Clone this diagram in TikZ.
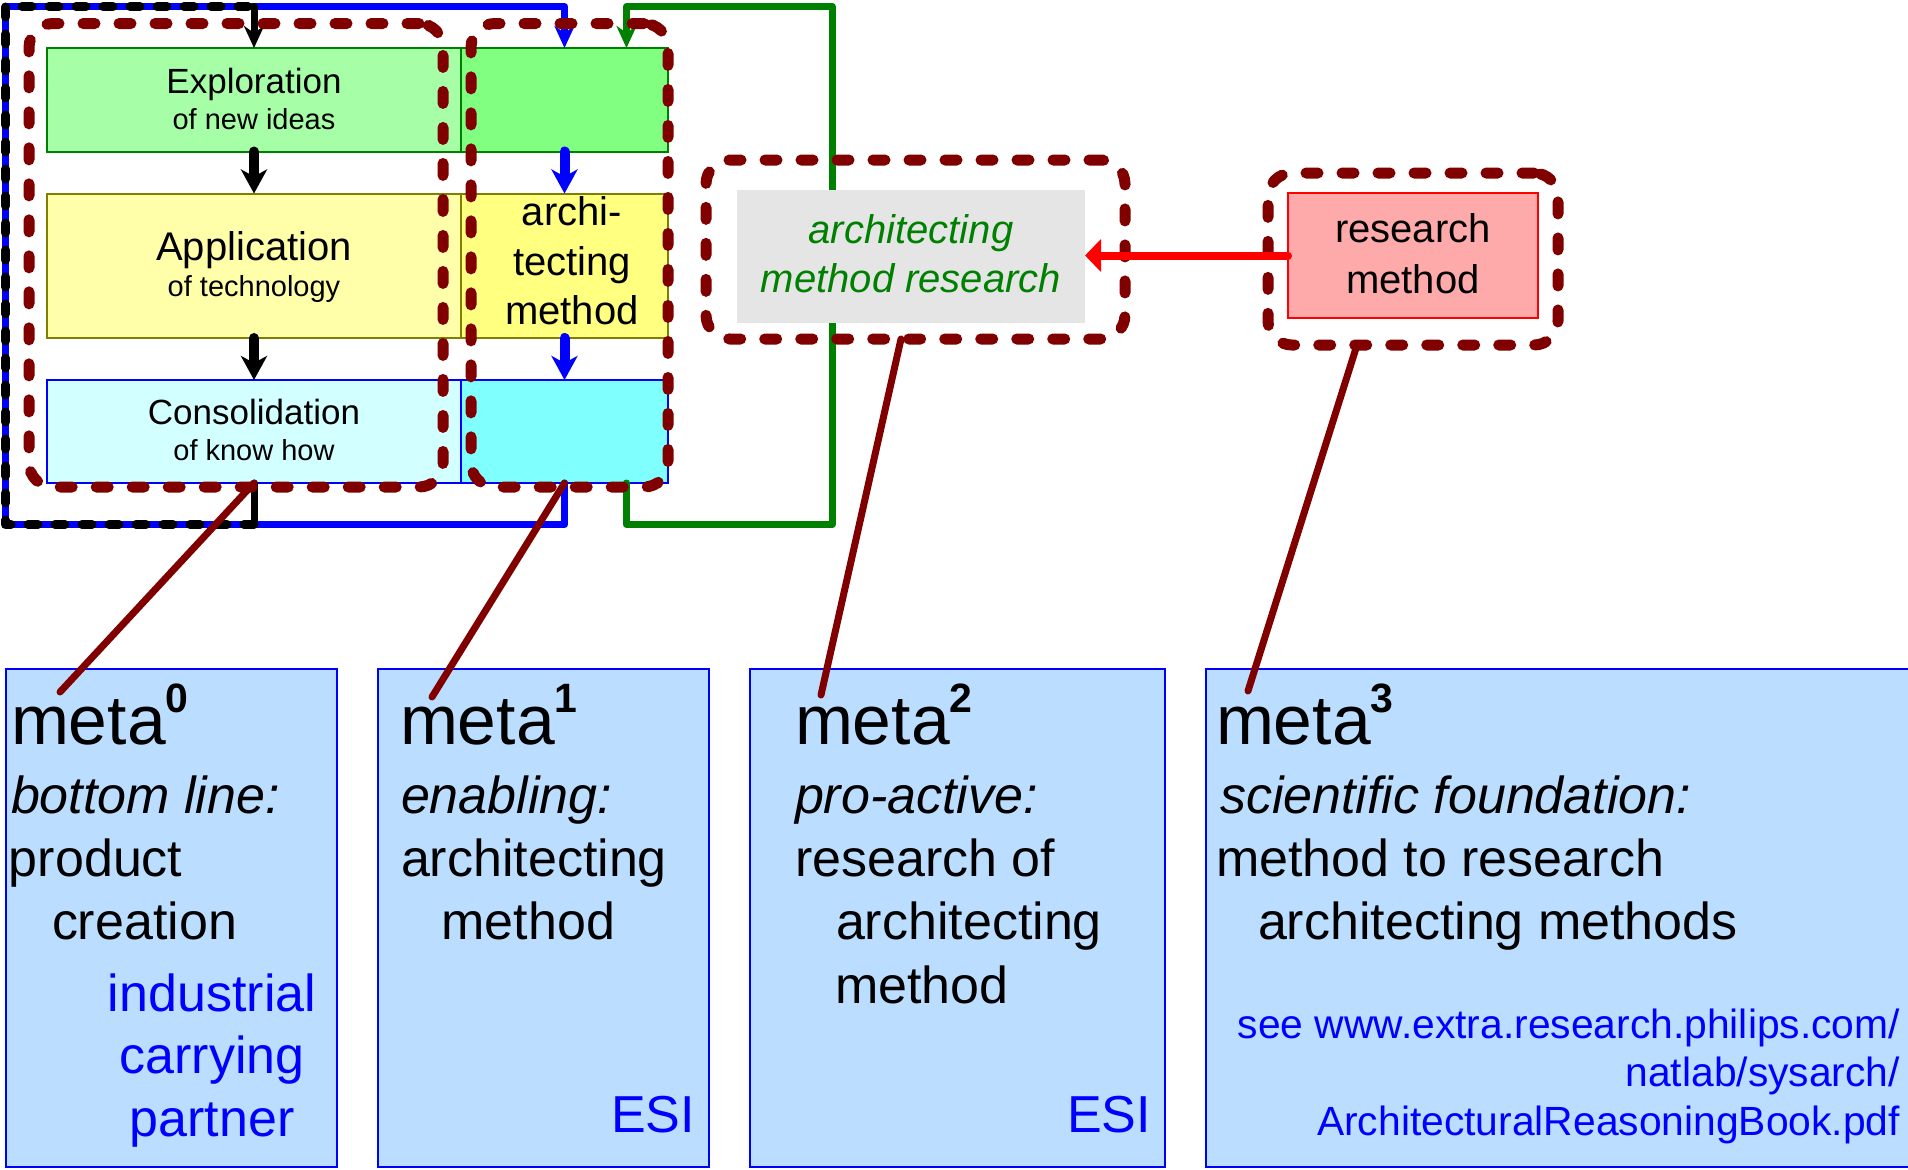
\documentclass[tikz,border=0pt]{standalone}
\usepackage{fontspec}
\setmainfont{Liberation Sans}
\usetikzlibrary{arrows.meta}
\definecolor{maroonc}{RGB}{128,0,0}
\definecolor{greenc}{RGB}{0,128,0}
\definecolor{olivec}{RGB}{128,128,0}
\definecolor{expLc}{RGB}{166,255,166}
\definecolor{expRc}{RGB}{128,255,128}
\definecolor{appLc}{RGB}{255,255,170}
\definecolor{appRc}{RGB}{255,255,128}
\definecolor{conLc}{RGB}{210,255,255}
\definecolor{conRc}{RGB}{128,255,255}
\definecolor{metac}{RGB}{187,221,255}
\definecolor{pinkc}{RGB}{255,170,170}
\definecolor{grayc}{RGB}{229,229,229}
\newcommand\metasup[1]{\raisebox{15.7pt}{\fontsize{20.5pt}{20.5pt}\selectfont\bfseries #1}}
\begin{document}
\begin{tikzpicture}[x=0.5pt,y=-0.5pt,
  cell/.style={draw, line width=1pt, inner sep=0pt, outer sep=0pt},
  txt/.style={inner sep=0pt, outer sep=0pt},
  fbig/.style={font=\fontsize{17.5pt}{21pt}\selectfont},
  fsub/.style={font=\fontsize{14.5pt}{17pt}\selectfont},
  fmid/.style={font=\fontsize{20pt}{24pt}\selectfont},
  fmeta/.style={font=\fontsize{34.8pt}{40pt}\selectfont},
  fbody/.style={font=\fontsize{26pt}{31pt}\selectfont},
  fbodyit/.style={font=\fontsize{26pt}{31pt}\selectfont\itshape},
  furl/.style={font=\fontsize{20.4pt}{24pt}\selectfont},
  frame/.style={draw=maroonc, line width=5.5pt, dash pattern=on 6pt off 12pt, line cap=round, rounded corners=12pt, inner sep=0pt, outer sep=0pt},
  conn/.style={draw=maroonc, line width=3.5pt, line cap=round},
  loopl/.style={line width=3.5pt, line join=round, line cap=round},
  toptip/.style={-{Stealth[length=11pt,width=10pt,inset=3.5pt]}},
  midarr/.style={line width=5pt, line cap=round, -{Stealth[length=12pt,width=13pt,inset=3.5pt]}},
  redarr/.style={draw=red, line width=4pt, line cap=round, -{Triangle[length=8pt,width=16pt]}}
]
\useasboundingbox (0,0) rectangle (1908,1169);

% column boxes
\node[cell, draw=greenc, fill=expLc, minimum width=207pt, minimum height=51.75pt] (expL) at (254,99.75) {};
\node[cell, draw=greenc, fill=expRc, minimum width=103.5pt, minimum height=51.75pt] (expR) at (564.5,99.75) {};
\node[cell, draw=olivec, fill=appLc, minimum width=207pt, minimum height=72.25pt] (appL) at (254,265.75) {};
\node[cell, draw=olivec, fill=appRc, minimum width=103.5pt, minimum height=72.25pt] (appR) at (564.5,265.75) {};
\node[cell, draw=blue, fill=conLc, minimum width=207pt, minimum height=51.5pt] (conL) at (254,431.5) {};
\node[cell, draw=blue, fill=conRc, minimum width=103.5pt, minimum height=51.5pt] (conR) at (564.5,431.5) {};

% loop coordinates
\coordinate (LB) at (5.5,524.5);
\coordinate (LT) at (5.5,6.5);
\coordinate (GB) at (832,524.5);
\coordinate (GT) at (832,6.5);
\coordinate (gS) at ([xshift=31pt]conR.south);
\coordinate (gN) at ([xshift=31pt]expR.north);

% loops
\draw[loopl, blue, toptip] (conR.south) -- (conR.south |- LB) -- (LB) -- (LT) -- (expR.north |- LT) -- (expR.north);
\draw[loopl, greenc, toptip] (gS) -- (gS |- GB) -- (GB) -- (GT) -- (gN |- GT) -- (gN);
\draw[loopl, black] (conL.south) -- (conL.south |- LB);
\draw[loopl, black, line width=4.5pt, dash pattern=on 5pt off 8.5pt] (conL.south |- LB) -- (LB) -- (LT) -- (expL.north |- LT);
\draw[loopl, black, toptip] (expL.north |- LT) -- (expL.north);

% other boxes
\node[fill=grayc, inner sep=0pt, outer sep=0pt, minimum width=174pt, minimum height=66.5pt] (gray) at (911,256.5) {};
\node[cell, draw=red, fill=pinkc, minimum width=125pt, minimum height=62.5pt] (res) at (1413,255.5) {};
\node[cell, draw=blue, fill=metac, minimum width=165.75pt, minimum height=249pt] (m0) at (171.25,918) {};
\node[cell, draw=blue, fill=metac, minimum width=165.5pt, minimum height=249pt] (m1) at (543.5,918) {};
\node[cell, draw=blue, fill=metac, minimum width=207.5pt, minimum height=249pt] (m2) at (957.5,918) {};
\node[cell, draw=blue, fill=metac, minimum width=353pt, minimum height=249pt] (m3) at (1559,918) {};

% texts in column boxes
\node[txt, fbig, anchor=base] (tE1) at (254,93) {Exploration};
\node[txt, fsub, anchor=base] (tE2) at (254,129) {of new ideas};
\node[txt, fmid, anchor=base] (tA1) at (254,260) {Application};
\node[txt, fsub, anchor=base] (tA2) at (254,296) {of technology};
\node[txt, fbig, anchor=base] (tC1) at (254,424) {Consolidation};
\node[txt, fsub, anchor=base] (tC2) at (254,460) {of know how};
\node[txt, fmid, anchor=base] (tR1) at (572,225.5) {archi-};
\node[txt, fmid, anchor=base] (tR2) at (572,275.5) {tecting};
\node[txt, fmid, anchor=base] (tR3) at (572,324) {method};

% gray and research texts
\node[txt, text=greenc, font=\fontsize{20pt}{24pt}\selectfont\itshape, anchor=base] (tG1) at (911,243) {architecting};
\node[txt, text=greenc, font=\fontsize{20pt}{24pt}\selectfont\itshape, anchor=base] (tG2) at (911,292) {method research};
\node[txt, fmid, anchor=base] (tS1) at (1413,242) {research};
\node[txt, fmid, anchor=base] (tS2) at (1413,293) {method};

% meta 0
\node[txt, fmeta, anchor=base west] (a0) at (11,744) {meta\metasup{0}};
\node[txt, fbodyit, anchor=base west] (a1) at (11,813) {bottom line:};
\node[txt, fbody, anchor=base west] (a2) at (9,876) {product};
\node[txt, fbody, anchor=base west] (a3) at (52,939) {creation};
\node[txt, fbody, text=blue, anchor=base] (a4) at (212,1011) {industrial};
\node[txt, fbody, text=blue, anchor=base] (a5) at (212,1073) {carrying};
\node[txt, fbody, text=blue, anchor=base] (a6) at (212,1136) {partner};

% meta 1
\node[txt, fmeta, anchor=base west] (b0) at (400,744) {meta\metasup{1}};
\node[txt, fbodyit, anchor=base west] (b1) at (401,813) {enabling:};
\node[txt, fbody, anchor=base west] (b2) at (401,876) {architecting};
\node[txt, fbody, anchor=base west] (b3) at (441.5,939) {method};
\node[txt, fbody, text=blue, anchor=base east] (b4) at (695,1132) {ESI};

% meta 2
\node[txt, fmeta, anchor=base west] (c0) at (795,744) {meta\metasup{2}};
\node[txt, fbodyit, anchor=base west] (c1) at (795,813) {pro-active:};
\node[txt, fbody, anchor=base west] (c2) at (795,876) {research of};
\node[txt, fbody, anchor=base west] (c3) at (836,939) {architecting};
\node[txt, fbody, anchor=base west] (c4) at (835,1003) {method};
\node[txt, fbody, text=blue, anchor=base east] (c5) at (1151,1132) {ESI};

% meta 3
\node[txt, fmeta, anchor=base west] (d0) at (1216,744) {meta\metasup{3}};
\node[txt, fbodyit, anchor=base west] (d1) at (1220,813) {scientific foundation:};
\node[txt, fbody, anchor=base west] (d2) at (1216,876) {method to research};
\node[txt, fbody, anchor=base west] (d3) at (1258,939) {architecting methods};
\node[txt, furl, text=blue, anchor=base east] (d4) at (1900,1038) {see www.extra.research.philips.com/};
\node[txt, furl, text=blue, anchor=base east] (d5) at (1900,1086) {natlab/sysarch/};
\node[txt, furl, text=blue, anchor=base east] (d6) at (1900,1135) {ArchitecturalReasoningBook.pdf};

% arrows between boxes
\draw[midarr, black] (expL) -- (appL);
\draw[midarr, black] (appL) -- (conL);
\draw[midarr, blue] (expR) -- (appR);
\draw[midarr, blue] (appR) -- (conR);

% dashed frames
\node[frame, minimum width=207pt, minimum height=231.75pt] (fL) at (236,255.25) {};
\node[frame, minimum width=98.5pt, minimum height=231.75pt] (fR) at (569.5,255.25) {};
\node[frame, minimum width=209.5pt, minimum height=89.5pt] (fC) at (915.5,249.5) {};
\node[frame, minimum width=145pt, minimum height=86pt] (fRes) at (1413,259) {};

% red arrow
\draw[redarr] (res.west) -- (res.west -| gray.east);

% connectors
\coordinate (e0) at (60,692);
\coordinate (e1) at (432,697);
\coordinate (e2) at (821,695);
\coordinate (e3) at (1248,691);
\draw[conn] (conL.south) -- (e0);
\draw[conn] (conR.south) -- (e1);
\draw[conn] ([xshift=-7.25pt]fC.south) -- (e2);
\draw[conn] ([xshift=-28pt]fRes.south) -- (e3);
\end{tikzpicture}
\end{document}
